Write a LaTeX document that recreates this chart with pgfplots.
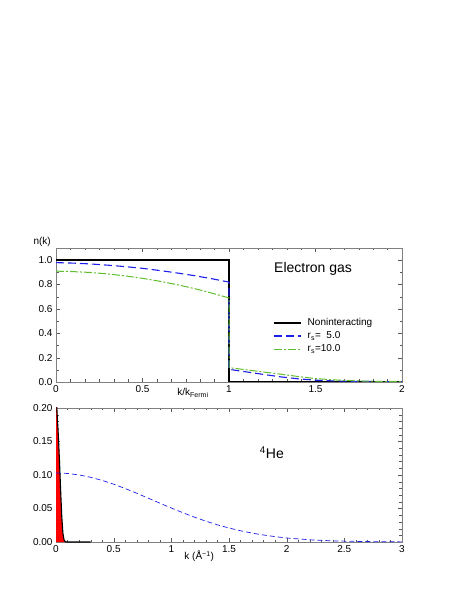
\documentclass[border=0pt]{standalone}
\usepackage{pgfplots}
\pgfplotsset{compat=1.18}
\usepackage{fontspec}
\setmainfont{Liberation Sans}

\definecolor{rsblue}{RGB}{30,30,235}
\definecolor{rsgreen}{RGB}{95,190,45}

\pgfplotsset{
  panel/.style={
    scale only axis, width=346pt, height=134pt, anchor=south west,
    axis line style={gray}, tick style={gray!70!black},
    major tick length=4pt, minor tick length=2.5pt, tick align=inside,
    ticklabel style={font=\fontsize{10}{12}\selectfont},
    /pgf/number format/assume math mode=true,
  }
}

\begin{document}
\begin{tikzpicture}
\path[use as bounding box] (0,0) rectangle (458pt,592pt);

% upper panel: electron gas
\begin{axis}[panel, at={(56pt,210pt)},
  xmin=0, xmax=2, ymin=0, ymax=1.1,
  xtick={0,0.5,1,1.5,2}, minor x tick num=5,
  ytick={0,0.2,0.4,0.6,0.8,1.0}, minor y tick num=1,
  yticklabel style={/pgf/number format/.cd, fixed, fixed zerofill, precision=1},
  xlabel={k/k\textsubscript{Fermi}},
  xlabel style={at={(rel axis cs:0.396,0)}, anchor=north, inner sep=0pt, yshift=-6pt,
    font=\fontsize{10}{12}\selectfont},
  ylabel={n(k)},
  every axis y label/.style={at={(rel axis cs:-0.04,1.045)}, anchor=center,
    font=\fontsize{10}{12}\selectfont},
  legend style={draw=none, fill=none, at={(rel axis cs:0.627,0.49)}, anchor=north west,
    inner sep=0pt, font=\fontsize{10}{12}\selectfont,
    nodes={inner sep=0pt, text height=9pt, text depth=4pt}},
  legend cell align=left,
  legend image code/.code={\draw[#1] (0pt,0pt) -- (27pt,0pt);},
]
\addplot[black, line width=1.6pt] coordinates {(0,1) (1,1) (1,0) (2,0)};
\addlegendentry{\hspace{6pt}Noninteracting}
\addplot[rsblue, line width=1.1pt, dash pattern=on 8pt off 4pt] coordinates {
  (0,0.980) (0.1,0.976) (0.2,0.969) (0.3,0.959) (0.4,0.947) (0.5,0.933)
  (0.6,0.915) (0.7,0.895) (0.8,0.873) (0.9,0.848) (1.0,0.820)
  (1.0,0.104) (1.1,0.083) (1.2,0.062) (1.3,0.042) (1.4,0.026) (1.5,0.015)
  (1.6,0.009) (1.7,0.006) (1.8,0.004) (1.9,0.003) (2.0,0.003)};
\addlegendentry{\hspace{6pt}r\textsubscript{s}=\phantom{1}5.0}
\addplot[rsgreen, line width=1pt, dash pattern=on 8pt off 2pt on 2pt off 2pt] coordinates {
  (0,0.910) (0.1,0.906) (0.2,0.899) (0.3,0.887) (0.4,0.871) (0.5,0.851)
  (0.6,0.827) (0.7,0.799) (0.8,0.767) (0.9,0.730) (1.0,0.690)
  (1.0,0.118) (1.1,0.100) (1.2,0.082) (1.3,0.064) (1.4,0.045) (1.5,0.028)
  (1.6,0.018) (1.7,0.011) (1.8,0.007) (1.9,0.005) (2.0,0.004)};
\addlegendentry{\hspace{6pt}r\textsubscript{s}=10.0}
\node[font=\fontsize{14}{16}\selectfont] at (rel axis cs:0.743,0.843) {Electron gas};
\end{axis}

% lower panel: helium 4
\begin{axis}[panel, at={(56pt,50pt)},
  xmin=0, xmax=3, ymin=0, ymax=0.2,
  xtick={0,0.5,1,1.5,2,2.5,3}, minor x tick num=4,
  ytick={0,0.05,0.1,0.15,0.2}, minor y tick num=4,
  yticklabel style={/pgf/number format/.cd, fixed, fixed zerofill, precision=2},
  xlabel={k (Å\textsuperscript{−1})},
  xlabel style={at={(rel axis cs:0.414,0)}, anchor=north, inner sep=0pt, yshift=-9pt,
    font=\fontsize{10}{12}\selectfont},
]
\addplot[draw=none, fill=red] coordinates {
  (0,0.23) (0.005,0.21) (0.01,0.19) (0.02,0.16) (0.03,0.122) (0.04,0.078)
  (0.05,0.038) (0.06,0.013) (0.07,0.003) (0.08,0.0005) (0.09,0)} \closedcycle;
\addplot[black, line width=1.1pt] coordinates {
  (0,0.23) (0.005,0.21) (0.01,0.19) (0.02,0.16) (0.03,0.122) (0.04,0.078)
  (0.05,0.038) (0.06,0.013) (0.07,0.003) (0.08,0.0005) (0.09,0) (0.3,0)};
\addplot[rsblue, line width=0.7pt, dash pattern=on 5pt off 3pt] coordinates {
  (0,0.1030) (0.1,0.1023) (0.2,0.1001) (0.3,0.0966) (0.4,0.0919) (0.5,0.0863)
  (0.6,0.0798) (0.7,0.0728) (0.8,0.0654) (0.9,0.0580) (1.0,0.0507)
  (1.1,0.0437) (1.2,0.0371) (1.3,0.0311) (1.4,0.0256) (1.5,0.0209)
  (1.6,0.0168) (1.7,0.0133) (1.8,0.0104) (1.9,0.0080) (2.0,0.0060)
  (2.2,0.0033) (2.4,0.0017) (2.6,0.0009) (2.8,0.0004) (3.0,0.0002)};
\node[font=\fontsize{14}{16}\selectfont] at (rel axis cs:0.624,0.664) {\textsuperscript{4}He};
\end{axis}
\end{tikzpicture}
\end{document}
